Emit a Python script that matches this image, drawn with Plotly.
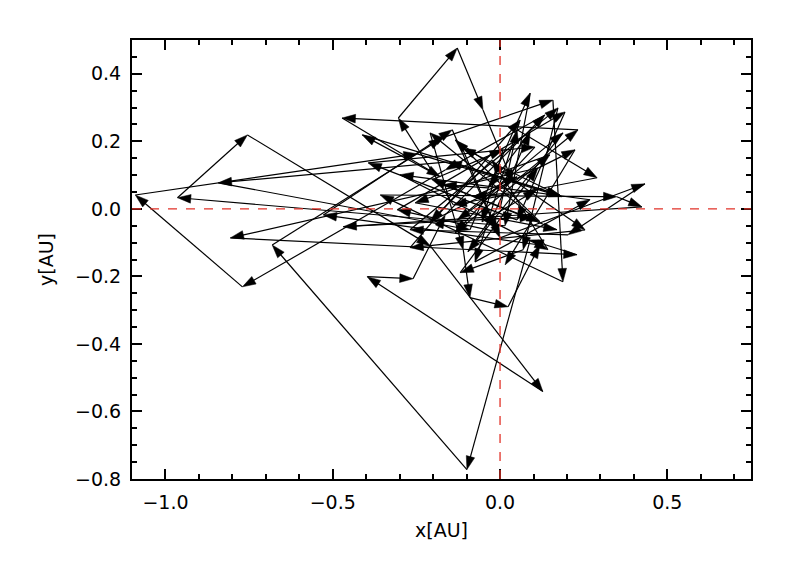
import plotly.graph_objects as go

# Walk positions (AU), in path order
x_au = [0.000, 0.051, 0.290, -0.140, -0.304, -0.128, -0.051, 0.039, 0.233, -0.472,
        -0.179, -0.412, 0.179, -0.155, -0.842, -0.090, 0.090, 0.015, -0.964, -0.755,
        -0.209, 0.128, -0.397, -0.260, -0.164, 0.134, -0.164, -0.770, -1.090, -0.248,
        0.185, -0.113, 0.000, 0.433, 0.203, -0.269, 0.173, 0.069, -0.119, 0.113,
        -0.806, 0.230, 0.090, -0.099, -0.681, -0.173, 0.158, 0.188, -0.358, 0.349,
        0.424, -0.469, 0.099, -0.209, -0.110, -0.090, 0.024, 0.119, -0.528, -0.143,
        -0.009, -0.307, 0.194, 0.051, -0.394, 0.104, -0.134, 0.149, -0.254, 0.170,
        -0.203, 0.009, -0.054, 0.110, -0.081, 0.051, -0.128, 0.188, -0.096, -0.015,
        0.090, -0.036, -0.170, 0.119, -0.134, 0.254, -0.269, 0.060, -0.075, 0.269,
        -0.299, 0.143, -0.024, -0.209, 0.224, 0.015]
y_au = [0.000, 0.234, 0.092, 0.012, 0.269, 0.476, 0.293, 0.077, 0.234, 0.269,
        0.095, 0.219, 0.041, 0.139, 0.077, -0.062, 0.343, -0.050, 0.033, 0.219,
        -0.109, -0.541, -0.201, -0.207, -0.018, 0.278, 0.115, -0.231, 0.041, 0.163,
        0.036, 0.180, -0.086, 0.074, -0.077, -0.062, 0.299, -0.121, -0.189, 0.121,
        -0.086, -0.136, -0.092, -0.772, -0.107, 0.210, 0.322, -0.216, 0.041, 0.036,
        0.006, -0.053, -0.024, 0.225, -0.121, -0.263, -0.290, -0.107, -0.018, 0.234,
        -0.068, -0.003, 0.287, -0.033, 0.136, 0.183, -0.071, 0.160, 0.018, -0.062,
        0.086, 0.175, -0.038, 0.056, 0.036, 0.095, -0.033, 0.225, -0.127, -0.009,
        0.228, 0.062, 0.071, -0.038, 0.204, -0.062, -0.115, 0.263, -0.157, 0.027,
        0.101, -0.121, 0.145, -0.038, 0.175, -0.166]

x_range = [-1.1, 0.75]
y_range = [-0.8, 0.5]
x_ticks = [-1.0, -0.5, 0.0, 0.5]
y_ticks = [-0.8, -0.6, -0.4, -0.2, 0.0, 0.2, 0.4]
origin_x = 0.0
origin_y = 0.0

font = "DejaVu Sans, Arial, sans-serif"

sizes = [0] + [14] * (len(x_au) - 1)

fig = go.Figure()
fig.add_trace(go.Scatter(
    x=x_au, y=y_au, mode="lines+markers",
    line=dict(color="black", width=1.2),
    marker=dict(symbol="arrow", angleref="previous", size=sizes,
                color="black", opacity=1, line=dict(width=0.5, color="black")),
    hoverinfo="skip", showlegend=False,
))

red = "rgb(225,50,40)"
fig.add_shape(type="line", x0=origin_x, x1=origin_x, y0=y_range[0], y1=y_range[1],
              xref="x", yref="y", line=dict(color=red, width=1.3, dash="dash"),
              layer="above")
fig.add_shape(type="line", x0=x_range[0], x1=x_range[1], y0=origin_y, y1=origin_y,
              xref="x", yref="y", line=dict(color=red, width=1.3, dash="dash"),
              layer="above")

axis_common = dict(
    showgrid=False, zeroline=False, showline=True, linecolor="black", linewidth=2,
    mirror="allticks", ticks="inside", ticklen=10, tickwidth=2, tickcolor="black",
    tickfont=dict(family=font, size=19, color="black"), tickformat=".1f",
    ticklabelstandoff=5,
)

fig.update_xaxes(range=x_range, tickvals=x_ticks,
                 minor=dict(dtick=0.1, tick0=0, ticks="inside", ticklen=5,
                            tickwidth=1.5, tickcolor="black"),
                 title=dict(text="x[AU]", font=dict(family=font, size=19, color="black"),
                            standoff=12),
                 **axis_common)
fig.update_yaxes(range=y_range, tickvals=y_ticks,
                 minor=dict(dtick=0.05, tick0=0, ticks="inside", ticklen=5,
                            tickwidth=1.5, tickcolor="black"),
                 title=dict(text="y[AU]", font=dict(family=font, size=19, color="black"),
                            standoff=16),
                 **axis_common)

fig.update_layout(
    width=789, height=563,
    margin=dict(l=124, r=46, t=32, b=92),
    paper_bgcolor="white", plot_bgcolor="white",
    font=dict(family=font, color="black"),
)

fig.write_html("out.html")
